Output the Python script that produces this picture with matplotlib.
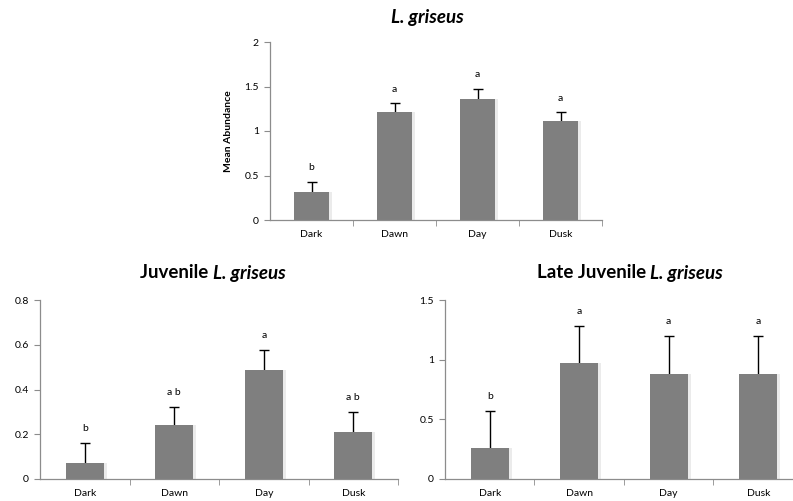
import matplotlib.pyplot as plt
import numpy as np

plt.rcParams['font.family'] = ['Lato', 'DejaVu Sans']

periods = ["Dark", "Dawn", "Day", "Dusk"]

# all fish
all_mean = [0.32, 1.21, 1.36, 1.11]
all_err = [0.11, 0.10, 0.11, 0.10]
all_letters = ["b", "a", "a", "a"]

# juveniles
juv_mean = [0.07, 0.24, 0.487, 0.209]
juv_err = [0.09, 0.083, 0.09, 0.089]
juv_letters = ["b", "a b", "a", "a b"]

# late juveniles
late_mean = [0.26, 0.975, 0.88, 0.88]
late_err = [0.307, 0.307, 0.318, 0.318]
late_letters = ["b", "a", "a", "a"]

BAR = "#7f7f7f"
AXIS = "#8c8c8c"
W, H = 793, 501


def panel(rect, mean, err, letters, ymax, ystep, ylabel=None):
    x0, y0, x1, y1 = rect
    ax = fig.add_axes([x0 / W, 1 - y1 / H, (x1 - x0) / W, (y1 - y0) / H])
    x = np.arange(len(periods))
    # soft shadow on the right of each bar, like the spreadsheet original
    ax.bar(x + 0.03, mean, width=0.43, color="#ebebeb", zorder=1)
    # symmetric bars drawn under the columns so only the upper half shows
    ax.errorbar(x, mean, yerr=err, fmt="none", ecolor="black", elinewidth=1.0,
                capsize=3.5, capthick=1.0, zorder=1.5)
    ax.bar(x, mean, width=0.43, color=BAR, zorder=2)
    pad = ymax * 0.055
    for xi, m, e, lab in zip(x, mean, err, letters):
        ax.text(xi, m + e + pad, lab, ha="center", va="bottom", fontsize=7.5)
    ax.set_xlim(-0.5, len(periods) - 0.5)
    ax.set_ylim(0, ymax)
    yt = np.arange(0, ymax + ystep / 2, ystep)
    ax.set_yticks(yt)
    ax.set_yticklabels([f"{v:g}" for v in yt])
    ax.set_xticks(x)
    ax.set_xticklabels(periods)
    ax.set_xticks(np.arange(0.5, len(periods) - 0.5 + 0.01, 1.0), minor=True)
    ax.tick_params(axis="x", which="major", length=0, labelsize=7.5, pad=7)
    ax.tick_params(axis="x", which="minor", length=4, color=AXIS, direction="out")
    ax.tick_params(axis="y", length=4, color=AXIS, labelsize=7.5, pad=4)
    for s in ["top", "right"]:
        ax.spines[s].set_visible(False)
    for s in ["left", "bottom"]:
        ax.spines[s].set_color(AXIS)
        ax.spines[s].set_linewidth(0.9)
    if ylabel:
        ax.set_ylabel(ylabel, fontsize=7.5, fontweight="bold", labelpad=8)
    return ax


def mixed_title(xc, yc, normal, italic):
    # title with the species name in italics, centred as a whole
    t1 = fig.text(0, 0, normal, fontsize=13.5, fontweight="bold", va="center")
    t2 = fig.text(0, 0, italic, fontsize=13.5, fontweight="bold", style="italic",
                  va="center")
    fig.canvas.draw()
    r = fig.canvas.get_renderer()
    w1 = t1.get_window_extent(r).width if normal else 0
    w2 = t2.get_window_extent(r).width
    left = xc - (w1 + w2) / 2
    t1.set_position((left / W, 1 - yc / H))
    t2.set_position(((left + w1) / W, 1 - yc / H))


fig = plt.figure(figsize=(W / 100, H / 100), dpi=100)

panel((270, 42, 602, 220), all_mean, all_err, all_letters, 2, 0.5,
      ylabel="Mean Abundance")
panel((40, 300, 398, 479), juv_mean, juv_err, juv_letters, 0.8, 0.2)
panel((445, 300, 803, 479), late_mean, late_err, late_letters, 1.5, 0.5)

mixed_title(427, 17, "", "L. griseus")
mixed_title(213, 273, "Juvenile ", "L. griseus")
mixed_title(630, 273, "Late Juvenile ", "L. griseus")

fig.savefig("out.png", dpi=100)
